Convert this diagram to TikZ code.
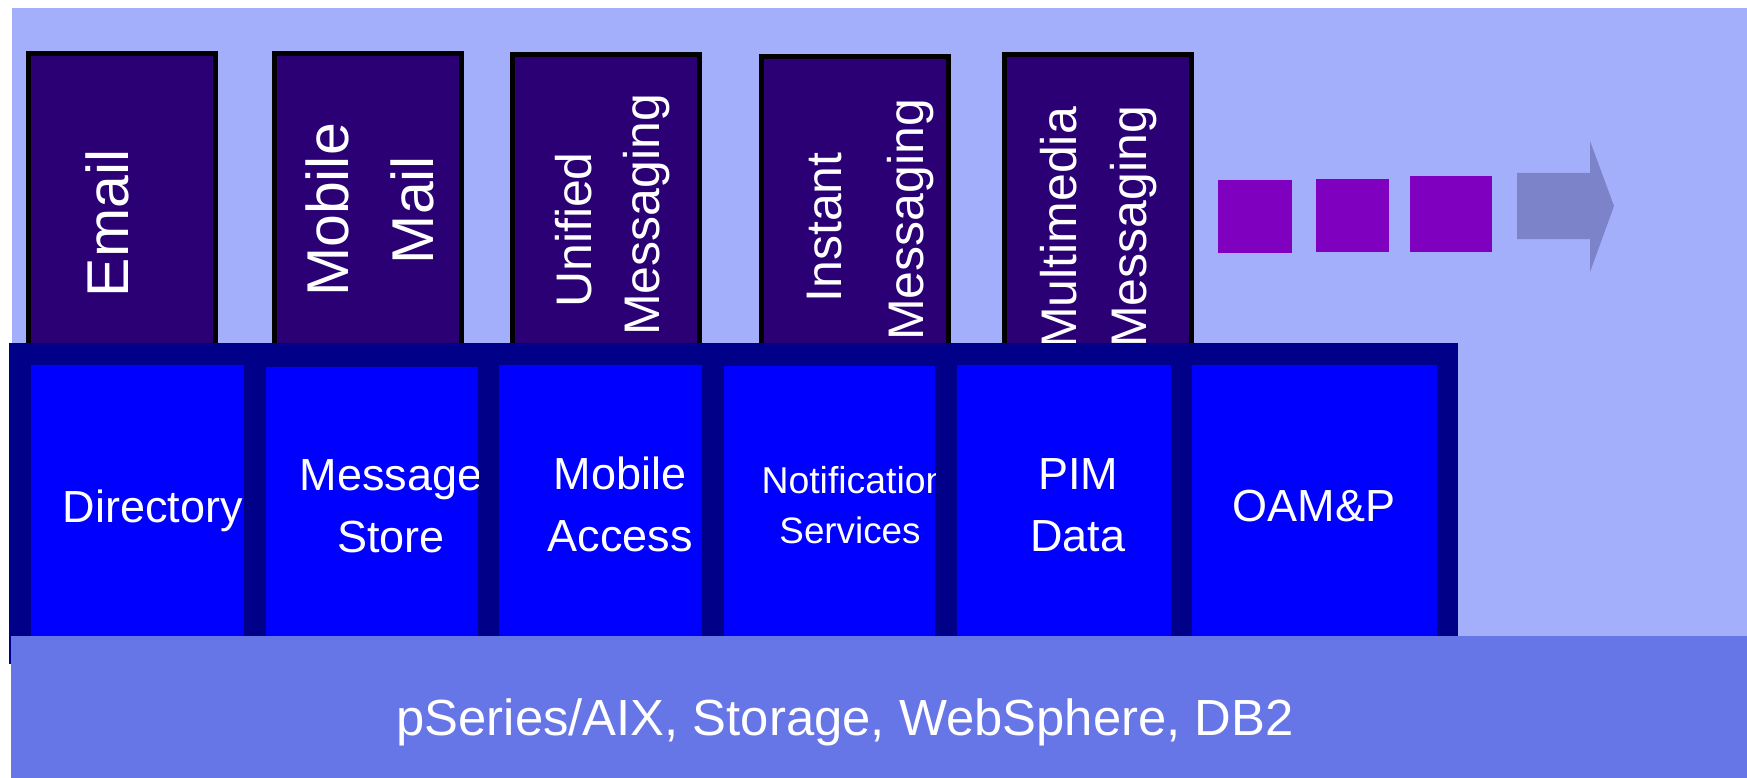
\documentclass[tikz,border=0pt]{standalone}
\usepackage{fontspec}
\setmainfont{Liberation Sans}
\definecolor{sky}{HTML}{A4AFFC}
\definecolor{appfill}{HTML}{2B0074}
\definecolor{navy}{HTML}{000088}
\definecolor{svcfill}{HTML}{0000FF}
\definecolor{basefill}{HTML}{6676E6}
\definecolor{dots}{HTML}{8000C0}
\definecolor{arrowfill}{HTML}{7C83C8}
\begin{document}
\begin{tikzpicture}[x=1pt,y=-1pt,
  plain/.style={inner sep=0pt, outer sep=0pt, anchor=north west},
  appbox/.style={plain, draw=black, line width=5pt, fill=appfill, minimum width=187pt, minimum height=300pt},
  svcbox/.style={plain, fill=svcfill, minimum height=271pt},
  dotbox/.style={plain, fill=dots},
  apptext/.style={inner sep=0pt, text=white, rotate=90, anchor=base},
  bigapp/.style={apptext, font=\fontsize{59}{59}\selectfont},
  smallapp/.style={apptext, font=\fontsize{50}{50}\selectfont},
  svctext/.style={inner sep=0pt, text=white, anchor=base, font=\fontsize{45}{45}\selectfont},
  basetext/.style={inner sep=0pt, text=white, anchor=base, font=\fontsize{50.8}{50.8}\selectfont}]
\useasboundingbox (0,0) rectangle (1747,778);

% backdrop
\node[plain, fill=sky, minimum width=1735pt, minimum height=640pt] (sky) at (12,8) {};

% application columns
\node[appbox] (email) at (28.5,53.5) {};
\node[appbox] (mmail) at (274.5,53.5) {};
\node[appbox] (umsg)  at (512.5,54.5) {};
\node[appbox] (imsg)  at (761.5,56.5) {};
\node[appbox] (mms)   at (1004.5,54.5) {};

\node[bigapp] (t-email) at (128,223.5) {Email};
\node[bigapp] (t-mob)   at (348,210) {Mobile};
\node[bigapp] (t-mail)  at (433,210) {Mail};
\node[smallapp] (t-uni)  at (591.5,230) {Unified};
\node[smallapp] (t-umsg) at (659,215) {Messaging};
\node[smallapp] (t-ins)  at (841,227.5) {Instant};
\node[smallapp] (t-imsg) at (923.5,220) {Messaging};
\node[smallapp] (t-mul)  at (1076,228) {Multimedia};
\node[smallapp] (t-mmsg) at (1146.5,227) {Messaging};

% service layer
\node[plain, fill=navy, minimum width=1449pt, minimum height=321pt] (layer) at (9,343) {};
\node[svcbox, minimum width=213pt] (dir)    at (31,365) {};
\node[svcbox, minimum width=212pt, minimum height=269pt] (store) at (266,367) {};
\node[svcbox, minimum width=203pt] (access) at (499,365) {};
\node[svcbox, minimum width=211pt, minimum height=270pt] (notif) at (724,366) {};
\node[svcbox, minimum width=214pt] (pim)    at (957,365) {};
\node[svcbox, minimum width=245pt] (oamp)   at (1192,365) {};

\begin{scope}
  \clip (dir.north west) rectangle (dir.south east);
  \node[svctext] (t-dir) at (153,522) {Directory};
\end{scope}
\begin{scope}
  \clip (store.north west) rectangle (store.south east);
  \node[svctext] (t-msg) at (391,490) {Message};
  \node[svctext] (t-sto) at (391,552) {Store};
\end{scope}
\begin{scope}
  \clip (access.north west) rectangle (access.south east);
  \node[svctext] (t-mob2) at (620,489) {Mobile};
  \node[svctext] (t-acc)  at (620,551) {Access};
\end{scope}
\begin{scope}
  \clip (notif.north west) rectangle (notif.south east);
  \node[svctext, font=\fontsize{37.4}{37.4}\selectfont] (t-not) at (854,493) {Notification};
  \node[svctext, font=\fontsize{36.8}{36.8}\selectfont] (t-ser) at (850,543) {Services};
\end{scope}
\begin{scope}
  \clip (pim.north west) rectangle (pim.south east);
  \node[svctext] (t-pim) at (1078,489) {PIM};
  \node[svctext] (t-dat) at (1078,551) {Data};
\end{scope}
\begin{scope}
  \clip (oamp.north west) rectangle (oamp.south east);
  \node[svctext] (t-oam) at (1314,521) {OAM\&P};
\end{scope}

% platform band
\node[plain, fill=basefill, minimum width=1736pt, minimum height=142pt] (base) at (11,636) {};
\node[basetext] (t-base) at (845,735) {pSeries/AIX, Storage, WebSphere, DB2};

% more to come
\node[dotbox, minimum width=74pt, minimum height=73pt] (d1) at (1218,180) {};
\node[dotbox, minimum width=73pt, minimum height=73pt] (d2) at (1316,179) {};
\node[dotbox, minimum width=82pt, minimum height=76pt] (d3) at (1410,176) {};
\fill[arrowfill] (1517,173) -- (1590,173) -- (1590,141) -- (1614,206)
  -- (1590,272) -- (1590,239) -- (1517,239) -- cycle;
\end{tikzpicture}
\end{document}
